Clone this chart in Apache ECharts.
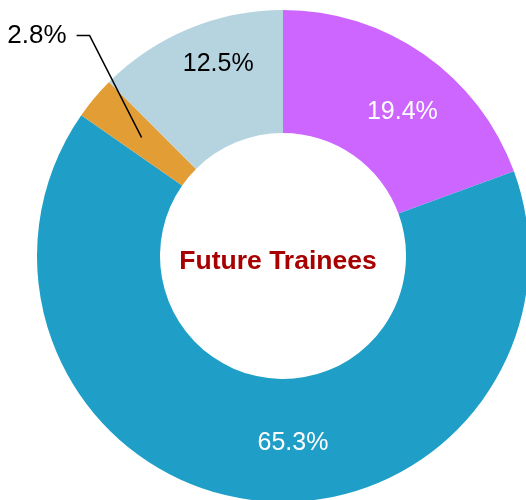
<!DOCTYPE html>
<html><head><meta charset="utf-8">
<script src="https://cdn.jsdelivr.net/npm/echarts@6/dist/echarts.min.js"></script>
<style>html,body{margin:0;padding:0;background:#fff}#c{width:526px;height:500px}</style>
</head><body><div id="c"></div>
<script>
const categories = ['Group A', 'Group B', 'Group C', 'Group D'];
const shares = [19.4, 65.3, 2.8, 12.5];
const sliceColors = ['#cc66ff', '#1f9fc7', '#e29d35', '#b5d4e0'];
const labelColors = ['#ffffff', '#ffffff', '#000000', '#000000'];
const centerTitle = 'Future Trainees';

// layout
const CX = 283, CY = 256, R0 = 123, R1 = 246;
const labelNudge = [[12, 10], [34, 1], [0, 0], [7, -19]];
const outsideIndex = 2;

const total = shares.reduce((a, b) => a + b, 0);
function midAngle(i) {
  let before = 0;
  for (let k = 0; k < i; k++) before += shares[k];
  return (before + shares[i] / 2) / total * 2 * Math.PI;
}
// leader line for the small slice, derived from its mid angle
const la = midAngle(outsideIndex), lmr = (R0 + R1) / 2;
const leadStart = [CX + lmr * Math.sin(la), CY - lmr * Math.cos(la)];
const leadBend = [leadStart[0] - 52, leadStart[1] - 102];
const leadEnd = [leadBend[0] - 13, leadBend[1]];

const chart = echarts.init(document.getElementById('c'), null, { renderer: 'canvas' });
chart.setOption({
  animation: false,
  title: {
    text: centerTitle, left: 273, top: 257, textAlign: 'center', textVerticalAlign: 'middle',
    textStyle: { color: '#a80000', fontSize: 26.5, fontWeight: 'bold', fontFamily: 'Liberation Sans, Arial, sans-serif' }
  },
  graphic: [{
    type: 'polyline', z: 100, silent: true,
    shape: { points: [leadStart, leadBend, leadEnd] },
    style: { stroke: '#000', lineWidth: 1.6, fill: null }
  }],
  series: [{
    type: 'pie', center: [CX, CY], radius: [R0, R1], startAngle: 90, clockwise: true,
    avoidLabelOverlap: false,
    label: { show: true, position: 'inside', fontSize: 25, fontFamily: 'Liberation Sans, Arial, sans-serif',
      formatter: p => p.value.toFixed(1) + '%' },
    labelLine: { show: false },
    emphasis: { disabled: true },
    data: categories.map((n, i) => ({
      name: n, value: shares[i],
      itemStyle: { color: sliceColors[i] },
      label: i === outsideIndex
        ? { color: labelColors[i], position: 'outside', fontSize: 26 }
        : { color: labelColors[i] }
    })),
    labelLayout: function (p) {
      const i = p.dataIndex;
      if (i === outsideIndex) {
        return { x: leadEnd[0] - 10, y: leadEnd[1], align: 'right', verticalAlign: 'middle' };
      }
      return { dx: labelNudge[i][0], dy: labelNudge[i][1] };
    }
  }]
});
</script>
</body></html>
